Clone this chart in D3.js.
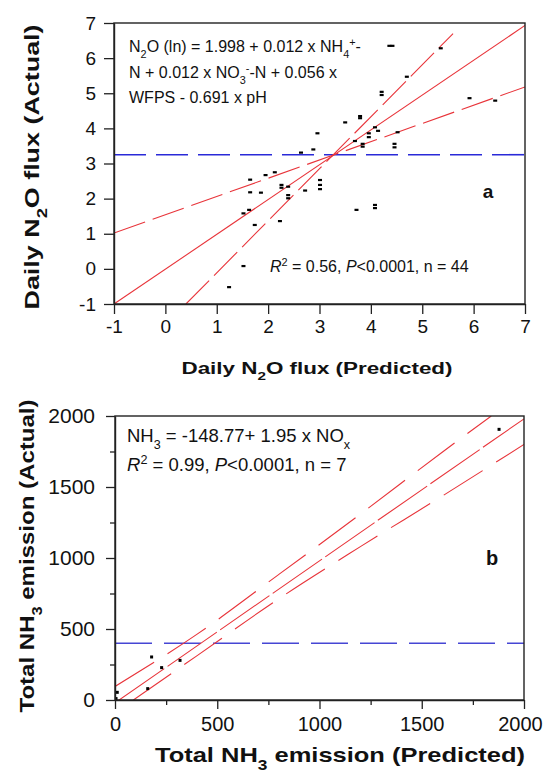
<!DOCTYPE html>
<html><head><meta charset="utf-8">
<script src="https://cdn.jsdelivr.net/npm/d3@7"></script>
<style>
body{margin:0;background:#fff}
svg{display:block}
text{font-family:"Liberation Sans",Arial,sans-serif;fill:#111}
</style>
</head><body>
<svg id="c" width="543" height="774"></svg>
<script>
// ---------------- DATA ----------------
// Panel a
const xTicksA = [-1, 0, 1, 2, 3, 4, 5, 6, 7];
const yTicksA = [-1, 0, 1, 2, 3, 4, 5, 6, 7];
const predictedA = [4.36,4.42,5.36,4.70,4.21,4.21,5.92,6.42,3.79,3.79,3.50,4.08,4.14,4.52,2.96,3.96,3.96,3.69,3.84,3.84,4.46,4.46,2.88,2.64,1.65,1.95,2.13,1.65,1.86,2.26,2.26,2.39,2.39,2.39,2.72,3.01,3.01,3.01,1.63,1.52,1.74,2.23,3.72,4.08,4.08,1.52,1.24];
const actualA    = [6.35,6.35,6.28,5.47,5.04,4.95,4.86,4.79,4.35,4.29,4.17,4.03,3.93,3.89,3.86,3.86,3.75,3.64,3.56,3.48,3.56,3.46,3.40,3.31,2.54,2.67,2.75,2.18,2.17,2.39,2.31,2.34,2.10,2.01,2.23,2.53,2.39,2.27,1.68,1.58,1.25,1.36,1.68,1.82,1.73,0.08,-0.52];
const fitA_x   = [-1, 7],     fitA_y   = [-1, 6.93];
const upperA_x = [0.40, 5.60], upperA_y = [-1, 6.70];
const lowerA_x = [-1, 7],     lowerA_y = [1.02, 5.18];
const meanActualA = 3.25;

// Panel b
const xTicksB = [0, 500, 1000, 1500, 2000];
const yTicksB = [0, 500, 1000, 1500, 2000];
const minorTicksB = [250, 750, 1250, 1750];
const predictedB = [11, 179, 160, 228, 318, 1878, 5];
const actualB    = [54, 303, 80, 228, 279, 1906, 10];
const fitB_x   = [0, 2000],  fitB_y = [-20, 1980];
const upperB_x = [0, 400, 800, 1200, 1600, 1840];
const upperB_y = [95, 462, 883, 1309, 1745, 2000];
const lowerB_x = [90, 400, 800, 1200, 1600, 2000];
const lowerB_y = [0, 311, 712, 1080, 1436, 1800];
const meanActualB = 400;

// ---------------- DRAW ----------------
const svg = d3.select("#c");
const RED = "#e8343a";

function rich(sel, parts) {
  parts.forEach(p => {
    const [s, t] = p;
    const ts = sel.append("tspan").text(s);
    if (t === "sub") ts.attr("font-size", "0.68em").attr("baseline-shift", "sub");
    if (t === "sup") ts.attr("font-size", "0.68em").attr("baseline-shift", "super");
    if (t === "i") ts.attr("font-style", "italic");
  });
  return sel;
}

function panel(cfg) {
  const g = svg.append("g");
  const x = d3.scaleLinear().domain(cfg.xd).range(cfg.xr);
  const y = d3.scaleLinear().domain(cfg.yd).range(cfg.yr);
  const id = "clip" + cfg.name;
  svg.append("clipPath").attr("id", id).append("rect")
    .attr("x", cfg.xr[0]).attr("y", cfg.yr[1])
    .attr("width", cfg.xr[1] - cfg.xr[0]).attr("height", cfg.yr[0] - cfg.yr[1]);
  const pg = g.append("g").attr("clip-path", `url(#${id})`);

  // mean line
  pg.append("line")
    .attr("x1", x(cfg.xd[0])).attr("x2", x(cfg.xd[1]))
    .attr("y1", y(cfg.mean)).attr("y2", y(cfg.mean))
    .attr("stroke", cfg.blue).attr("stroke-width", 1.6)
    .attr("stroke-dasharray", cfg.blueDash);

  const line = d3.line().x(d => x(d[0])).y(d => y(d[1])).curve(d3.curveMonotoneX);
  cfg.lines.forEach(L => {
    pg.append("path").datum(L.xs.map((v, i) => [v, L.ys[i]]))
      .attr("d", line).attr("fill", "none")
      .attr("stroke", RED).attr("stroke-width", 1.1)
      .attr("stroke-dasharray", L.dash || null);
  });

  // points
  pg.selectAll("rect.pt").data(cfg.px.map((v, i) => [v, cfg.py[i]])).enter()
    .append("rect").attr("class", "pt")
    .attr("x", d => x(d[0]) - cfg.mw / 2).attr("y", d => y(d[1]) - cfg.mh / 2)
    .attr("width", cfg.mw).attr("height", cfg.mh).attr("fill", "#000");

  // axes
  const ax = g.append("g").attr("transform", `translate(0,${cfg.yr[0]})`)
    .call(d3.axisBottom(x).tickValues(cfg.xt).tickFormat(d => String(d))
      .tickSize(cfg.ts).tickPadding(cfg.tpx).tickSizeOuter(0));
  const ay = g.append("g").attr("transform", `translate(${cfg.xr[0]},0)`)
    .call(d3.axisLeft(y).tickValues(cfg.yt).tickFormat(d => String(d))
      .tickSize(cfg.ts).tickPadding(cfg.tpy).tickSizeOuter(0));
  ax.selectAll("text").attr("font-size", cfg.tfsx);
  ay.selectAll("text").attr("font-size", cfg.tfs);
  if (cfg.lastShift) {
    ax.selectAll(".tick").filter((d, i, n) => i === n.length - 1)
      .select("text").attr("dx", cfg.lastShift);
  }
  [ax, ay].forEach(a => {
    a.selectAll("text").attr("fill", "#222")
      .attr("font-family", '"Liberation Sans",Arial,sans-serif');
    a.selectAll("line").attr("stroke", "#222").attr("stroke-width", 1.3);
    a.select(".domain").attr("stroke", "#222").attr("stroke-width", 1.4);
  });
  if (cfg.minor) {
    g.append("g").attr("transform", `translate(0,${cfg.yr[0]})`)
      .call(d3.axisBottom(x).tickValues(cfg.minor).tickFormat("").tickSize(5).tickSizeOuter(0))
      .call(s => { s.select(".domain").remove(); s.selectAll("line").attr("stroke", "#222").attr("stroke-width", 1.3); });
    g.append("g").attr("transform", `translate(${cfg.xr[0]},0)`)
      .call(d3.axisLeft(y).tickValues(cfg.minor).tickFormat("").tickSize(5).tickSizeOuter(0))
      .call(s => { s.select(".domain").remove(); s.selectAll("line").attr("stroke", "#222").attr("stroke-width", 1.3); });
  }
  // frame
  g.append("rect").attr("x", cfg.xr[0]).attr("y", cfg.yr[1])
    .attr("width", cfg.xr[1] - cfg.xr[0]).attr("height", cfg.yr[0] - cfg.yr[1])
    .attr("fill", "none").attr("stroke", "#222").attr("stroke-width", 1.4);
  return { x, y };
}

// Panel a
panel({
  name: "A", xd: [-1, 7], yd: [-1, 7], xr: [114, 525], yr: [304, 23],
  xt: xTicksA, yt: yTicksA, ts: 10, tpx: 6, tpy: 8, tfs: 19, tfsx: 19,
  mean: meanActualA, blue: "#2a2ad8", blueDash: "32,10",
  lines: [
    { xs: fitA_x, ys: fitA_y },
    { xs: upperA_x, ys: upperA_y, dash: "33,7" },
    { xs: lowerA_x, ys: lowerA_y, dash: "33,8" }
  ],
  px: predictedA, py: actualA, mw: 4, mh: 2.2
});

// Panel b
panel({
  name: "B", xd: [0, 2000], yd: [0, 2000], xr: [115, 524], yr: [700, 416],
  xt: xTicksB, yt: yTicksB, ts: 9, tpx: 8, tpy: 11, tfs: 21, tfsx: 20, minor: minorTicksB,
  lastShift: -4,
  mean: meanActualB, blue: "#4646d4", blueDash: "37,12",
  lines: [
    { xs: fitB_x, ys: fitB_y, dash: "60,4" },
    { xs: upperB_x, ys: upperB_y, dash: "46,16" },
    { xs: lowerB_x, ys: lowerB_y, dash: "46,16" }
  ],
  px: predictedB, py: actualB, mw: 3, mh: 3
});

// ---- Texts panel a ----
rich(svg.append("text").attr("x", 129).attr("y", 52).attr("font-size", 16),
  [["N"], ["2", "sub"], ["O (ln) = 1.998 + 0.012 x NH"], ["4", "sub"], ["+", "sup"], ["-"]]);
rich(svg.append("text").attr("x", 129).attr("y", 78).attr("font-size", 16),
  [["N + 0.012 x NO"], ["3", "sub"], ["-", "sup"], ["-N + 0.056 x"]]);
rich(svg.append("text").attr("x", 129).attr("y", 103).attr("font-size", 16),
  [["WFPS - 0.691 x pH"]]);
rich(svg.append("text").attr("x", 270).attr("y", 272).attr("font-size", 16),
  [["R", "i"], ["2", "sup"], [" = 0.56, "], ["P", "i"], ["<0.0001, n = 44"]]);
svg.append("text").attr("x", 488).attr("y", 198).attr("font-size", 19)
  .attr("font-weight", "bold").attr("text-anchor", "middle").text("a");

rich(svg.append("text").attr("x", 317).attr("y", 374).attr("font-size", 16)
  .attr("font-weight", "bold").attr("text-anchor", "middle")
  .attr("textLength", 271).attr("lengthAdjust", "spacingAndGlyphs"),
  [["Daily N"], ["2", "sub"], ["O flux (Predicted)"]]);
rich(svg.append("text").attr("transform", "translate(39,167) rotate(-90)")
  .attr("font-size", 21).attr("font-weight", "bold").attr("text-anchor", "middle")
  .attr("textLength", 285).attr("lengthAdjust", "spacingAndGlyphs"),
  [["Daily N"], ["2", "sub"], ["O flux (Actual)"]]);

// ---- Texts panel b ----
rich(svg.append("text").attr("x", 127).attr("y", 442).attr("font-size", 18.5),
  [["NH"], ["3", "sub"], [" = -148.77+ 1.95 x NO"], ["x", "sub"]]);
rich(svg.append("text").attr("x", 127).attr("y", 471).attr("font-size", 18.5),
  [["R", "i"], ["2", "sup"], [" = 0.99, "], ["P", "i"], ["<0.0001, n = 7"]]);
svg.append("text").attr("x", 492).attr("y", 565).attr("font-size", 20)
  .attr("font-weight", "bold").attr("text-anchor", "middle").text("b");

rich(svg.append("text").attr("x", 340).attr("y", 762).attr("font-size", 21)
  .attr("font-weight", "bold").attr("text-anchor", "middle")
  .attr("textLength", 370).attr("lengthAdjust", "spacingAndGlyphs"),
  [["Total NH"], ["3", "sub"], [" emission (Predicted)"]]);
rich(svg.append("text").attr("transform", "translate(34,556) rotate(-90)")
  .attr("font-size", 21).attr("font-weight", "bold").attr("text-anchor", "middle")
  .attr("textLength", 313).attr("lengthAdjust", "spacingAndGlyphs"),
  [["Total NH"], ["3", "sub"], [" emission (Actual)"]]);
</script>
</body></html>
